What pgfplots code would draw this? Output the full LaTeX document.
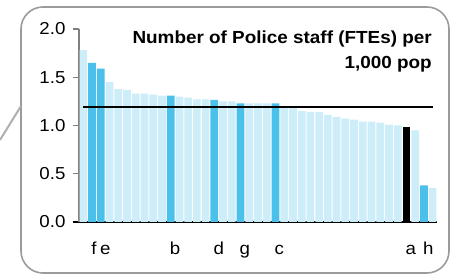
\documentclass[border=0pt]{standalone}
\usepackage{pgfplots}
\pgfplotsset{compat=1.18}
\usepackage{fontspec}
\setmainfont{Liberation Sans}[FakeStretch=1.08]
\definecolor{lightbar}{RGB}{205,237,249}
\definecolor{bluebar}{RGB}{74,192,234}
\definecolor{framegray}{RGB}{155,155,155}
\begin{document}
\begin{tikzpicture}[x=1pt,y=1pt]
\useasboundingbox (0,0) rectangle (450,275);
\draw[framegray, line width=1.6pt, rounded corners=22pt] (21,268) rectangle (449,2);
\draw[framegray!80, line width=2pt] (0,135) -- (21,169);
\begin{axis}[
 at={(79pt,53pt)}, anchor=south west, scale only axis, width=358pt, height=193pt,
 xmin=-0.5, xmax=40.5, ymin=0, ymax=2,
 axis x line=bottom, axis y line=left,
 x axis line style={-, black, line width=1.5pt, shorten <=-6pt},
 y axis line style={-, gray, line width=1.5pt},
 ytick={0,0.5,1,1.5,2},
 yticklabel style={/pgf/number format/fixed, /pgf/number format/fixed zerofill, /pgf/number format/precision=1, xshift=-4pt},
 /pgf/number format/assume math mode=true,
 tick align=outside, major tick length=6pt,
 ytick style={gray, line width=1.2pt},
 xtick={1,2,10,15,18,22,37,39}, xticklabels={f,e,b,d,g,c,a,h},
 xtick style={draw=none},
 tick label style={font=\fontsize{17.3}{20}\selectfont},
 xticklabel style={anchor=base west, inner sep=0pt, yshift=-26.5pt, xshift=-1pt},
 clip=false,
]
\addplot[ybar, bar width=7.7pt, fill=lightbar, draw=none] coordinates {
(0,1.78) (3,1.45) (4,1.38) (5,1.37) (6,1.33) (7,1.33) (8,1.32) (9,1.31)
(11,1.30) (12,1.29) (13,1.27) (14,1.27) (16,1.25) (17,1.25)
(19,1.23) (20,1.23) (21,1.23) (23,1.20) (24,1.19) (25,1.15) (26,1.14) (27,1.14)
(28,1.11) (29,1.09) (30,1.07) (31,1.06) (32,1.04) (33,1.04) (34,1.03) (35,1.01)
(36,1.00) (38,0.95) (40,0.35)};
\addplot[ybar, bar width=7.7pt, fill=bluebar, draw=none] coordinates {
(1,1.65) (2,1.59) (10,1.31) (15,1.265) (18,1.23) (22,1.23) (39,0.38)};
\addplot[ybar, bar width=7.7pt, fill=black, draw=none] coordinates {(37,0.98)};
\addplot[black, line width=1.6pt, no markers] coordinates {(0,1.19) (40,1.19)};
\end{axis}
\node[anchor=base east, inner sep=0pt, font=\fontsize{17.5}{21}\selectfont\bfseries] at (432,231.5) {Number of Police staff (FTEs) per};
\node[anchor=base east, inner sep=0pt, font=\fontsize{17.5}{21}\selectfont\bfseries] at (432,206.5) {1,000 pop};
\end{tikzpicture}
\end{document}
